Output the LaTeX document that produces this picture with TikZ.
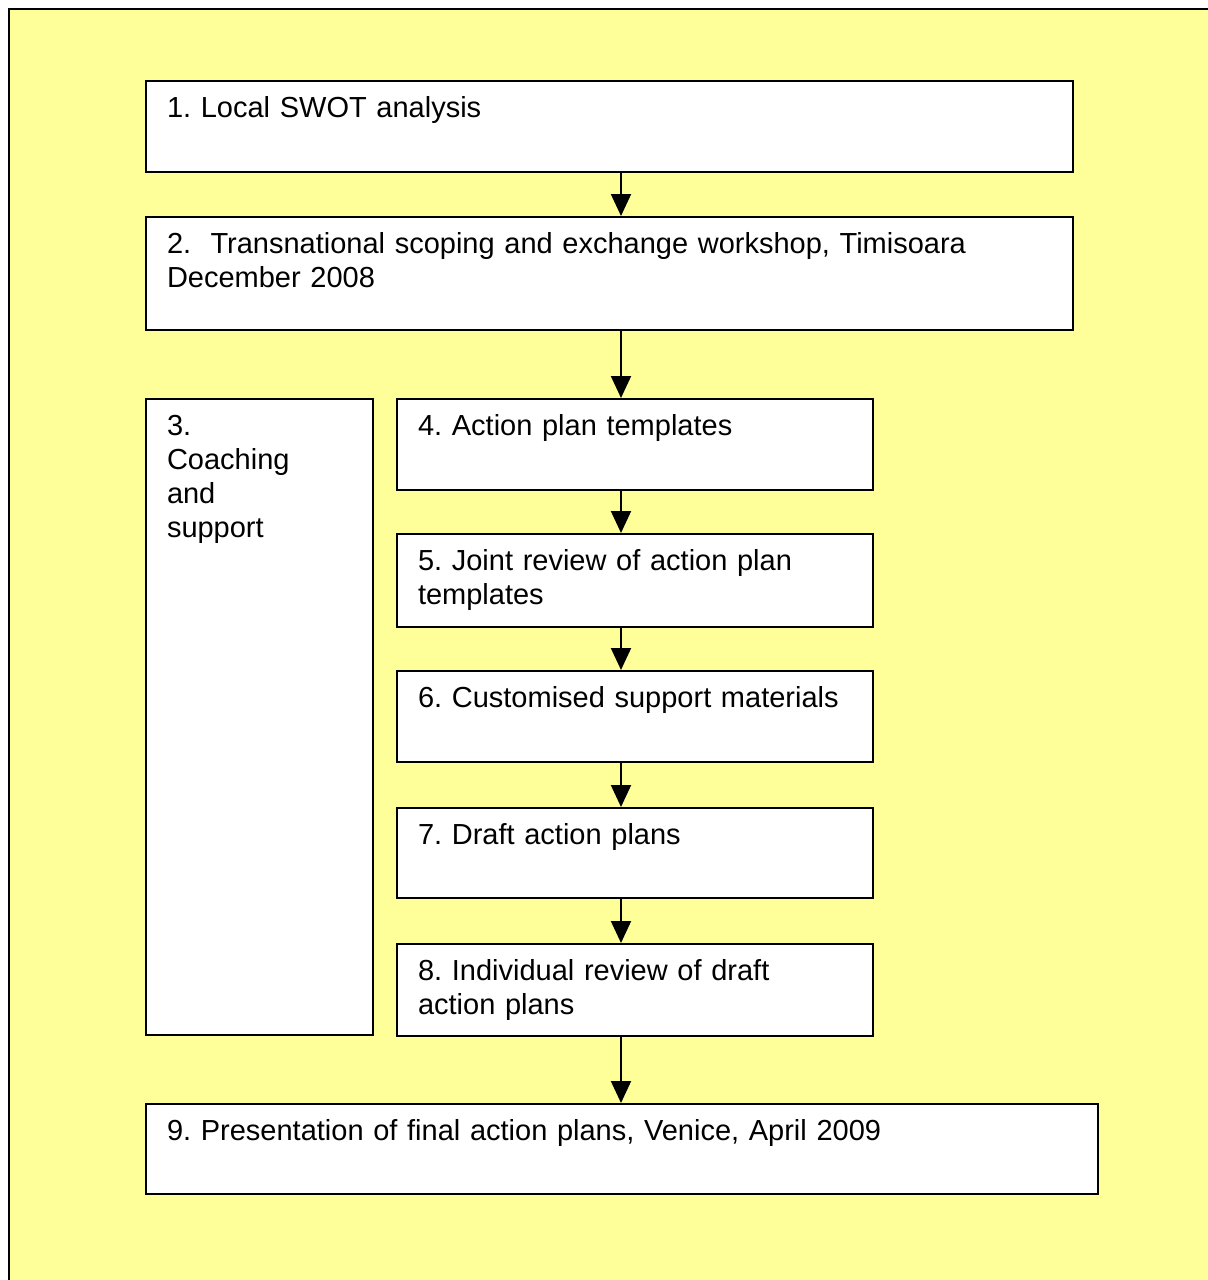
\documentclass[tikz,border=0pt]{standalone}
\usepackage{fontspec}
\setmainfont{Liberation Sans}
\usepackage{tikz}
\usetikzlibrary{arrows.meta, positioning}
\definecolor{pagebg}{HTML}{FFFF99}
\frenchspacing

\begin{document}
\begin{tikzpicture}[
    x=1bp, y=-1bp,
    stage/.style 2 args={draw=black, line width=2bp, fill=white, rectangle, anchor=north west,
        align=left, inner xsep=21bp, inner ysep=0bp, text width=#1-42bp,
        text height=36bp, text depth=#2, font=\fontsize{29bp}{34bp}\selectfont},
    arrow/.style={-{Triangle[width=20bp, length=22bp]}, line width=2bp, black}
]
\useasboundingbox (0,0) rectangle (1208,1280);
% page frame, cut off at the right and bottom
\fill[pagebg] (9,9) rectangle (1220,1292);
\draw[line width=2bp] (9,1292) -- (9,9) -- (1220,9);

\node[stage={927bp}{55bp}] (swot) at (145,80) {1. Local SWOT analysis};
\node[stage={927bp}{77bp}] (workshop) at (145,216)
    {2.\ \ Transnational scoping and exchange workshop, Timisoara\\December 2008};
\node[stage={227bp}{600bp}] (coach) at (145,398) {3.\\Coaching\\and\\support};

% column of action plan steps
\node[stage={476bp}{55bp}] (templ) at (396,398) {4. Action plan templates};
\node[stage={476bp}{57bp}, below=42bp of templ.south west, anchor=north west] (joint)
    {5. Joint review of action plan\\templates};
\node[stage={476bp}{55bp}, below=42bp of joint.south west, anchor=north west] (custom)
    {6. Customised support materials};
\node[stage={476bp}{54bp}, below=44bp of custom.south west, anchor=north west] (draft)
    {7. Draft action plans};
\node[stage={476bp}{56bp}, below=44bp of draft.south west, anchor=north west] (indiv)
    {8. Individual review of draft\\action plans};

\node[stage={952bp}{54bp}] (venice) at (145,1103)
    {9. Presentation of final action plans, Venice, April 2009};

\coordinate (axis) at (621,0);
\draw[arrow] (swot.south -| axis) -- (workshop.north -| axis);
\draw[arrow] (workshop.south -| axis) -- (templ.north -| axis);
\draw[arrow] (templ.south -| axis) -- (joint.north -| axis);
\draw[arrow] (joint.south -| axis) -- (custom.north -| axis);
\draw[arrow] (custom.south -| axis) -- (draft.north -| axis);
\draw[arrow] (draft.south -| axis) -- (indiv.north -| axis);
\draw[arrow] (indiv.south -| axis) -- (venice.north -| axis);
\end{tikzpicture}
\end{document}
